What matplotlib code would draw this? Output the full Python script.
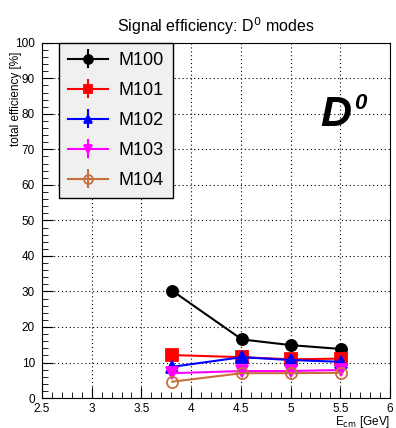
import numpy as np
import matplotlib.pyplot as plt
from matplotlib.ticker import MultipleLocator

plt.rcParams['font.family'] = ['Liberation Sans', 'DejaVu Sans']

# datos
energias = [3.81, 4.51, 5.0, 5.51]
series = ['M100', 'M101', 'M102', 'M103', 'M104']
ef_m100 = [30.2, 16.5, 14.9, 13.8]
ef_m101 = [12.1, 11.5, 10.9, 11.1]
ef_m102 = [8.8, 11.5, 10.7, 10.2]
ef_m103 = [7.0, 7.6, 7.6, 7.9]
ef_m104 = [4.6, 7.0, 7.0, 7.1]

valores = [ef_m100, ef_m101, ef_m102, ef_m103, ef_m104]
colores = ['black', 'red', 'blue', 'magenta', '#c8703c']
marcadores = ['o', 's', '^', 'v', 'o']

fig = plt.figure(figsize=(3.96, 4.28), dpi=100)
ax = fig.add_axes([0.106, 0.070, 0.879, 0.830])

for nombre, y, c, m in zip(series, valores, colores, marcadores):
    abierto = nombre == 'M104'
    ax.errorbar(energias, y, yerr=0, color=c, marker=m, markersize=8,
                markerfacecolor='none' if abierto else c,
                markeredgewidth=1.3, linewidth=1.5, label=nombre)

ax.set_xlim(2.5, 6)
ax.set_ylim(0, 100)
ax.xaxis.set_major_locator(MultipleLocator(0.5))
ax.xaxis.set_minor_locator(MultipleLocator(0.1))
ax.yaxis.set_major_locator(MultipleLocator(10))
ax.yaxis.set_minor_locator(MultipleLocator(2))
ax.xaxis.set_major_formatter(plt.FuncFormatter(lambda v, p: f'{v:g}'))
ax.tick_params(which='both', direction='in', labelsize=8.5, colors='black')
ax.tick_params(axis='y', pad=5)
ax.tick_params(which='major', length=8)
ax.tick_params(which='minor', length=4)
ax.grid(True, which='major', linestyle=(0, (1, 2.5)), color='black', linewidth=0.8)

ax.set_title('Signal efficiency: D$^0$ modes', fontsize=11.5, pad=8)
ax.set_xlabel(r'E$_{\mathrm{cm}}$ [GeV]', fontsize=8.5, loc='right', labelpad=-1)
ax.set_ylabel('total efficiency [%]', fontsize=8.5, ha='right')
ax.yaxis.set_label_coords(-0.058, 0.975)

ax.text(5.30, 76.5, 'D', fontsize=31, fontweight='bold', fontstyle='italic')
ax.text(5.635, 81.5, '0', fontsize=16, fontweight='bold', fontstyle='italic')

leg = ax.legend(loc='upper left', bbox_to_anchor=(0.049, 1.0), borderaxespad=0,
                fontsize=13, frameon=True, fancybox=False, edgecolor='black',
                facecolor='#f0f0f0', framealpha=1, borderpad=0.5,
                labelspacing=0.72, handlelength=2.2, handletextpad=0.6,
                markerscale=0.8)
leg.get_frame().set_linewidth(1.0)

plt.savefig('out.png', dpi=100)
plt.close()
